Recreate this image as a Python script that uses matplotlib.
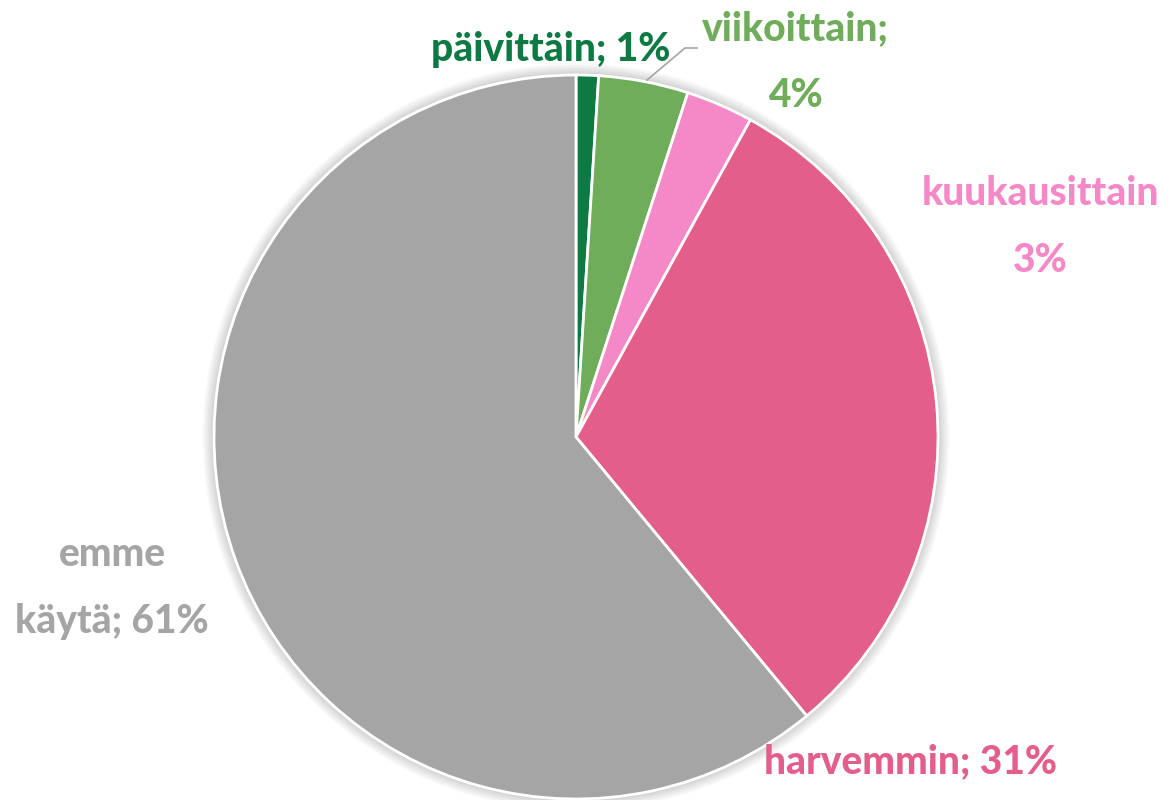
import matplotlib.pyplot as plt
from matplotlib.patches import Circle

# Tiedot
luokat = ["päivittäin", "viikoittain", "kuukausittain", "harvemmin", "emme käytä"]
osuudet = [1, 4, 3, 31, 61]
varit = ["#0E7A43", "#70AD5A", "#F589C8", "#E45E8B", "#A5A5A5"]
tekstit = ["päivittäin; 1%", "viikoittain;\n4%", "kuukausittain\n3%",
           "harvemmin; 31%", "emme\nkäytä; 61%"]

fig = plt.figure(figsize=(11.68, 8), dpi=100)
ax = fig.add_axes([0, 0, 1, 1])

keski = (576, 363)
sade = 362

# pehmeä varjo piirakan ympärillä
for i in range(8):
    ax.add_patch(Circle(keski, sade + 1 + i * 1.5, color="black",
                        alpha=0.025, lw=0, zorder=0))

ax.pie(osuudet, colors=varit, startangle=90, counterclock=False,
       center=keski, radius=sade, frame=True,
       wedgeprops=dict(edgecolor="white", linewidth=2))
ax.set_xlim(0, 1168)
ax.set_ylim(0, 800)
ax.set_aspect("equal")
ax.axis("off")

# tekstien paikat (kuvapikseleinä, y ylhäältä)
paikat = [(551, 50), (795, 62), (1040, 227), (911, 762), (112, 588)]
for teksti, vari, (x, y) in zip(tekstit, varit, paikat):
    ax.text(x, 800 - y, teksti, color=vari, fontsize=28, fontweight="black",
            family="Lato", ha="center", va="center", linespacing=2.0)

# johtoviiva viikoittain-tekstille
ax.plot([647, 685, 697], [800 - 80, 800 - 48, 800 - 48], color="#A5A5A5",
        lw=1.2, zorder=5)

fig.savefig("out.png", dpi=100)
